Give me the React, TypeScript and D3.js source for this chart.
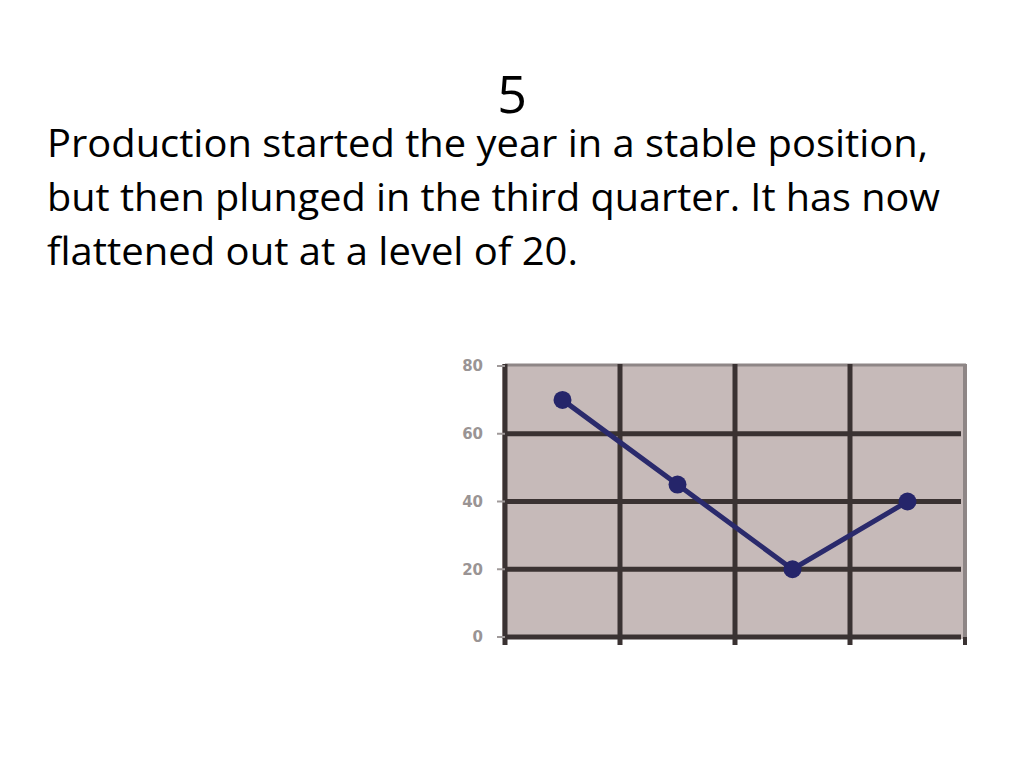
import React from "react";
import * as d3 from "d3";

const title = "5";
const bodyLines = [
  "Production started the year in a stable position,",
  "but then plunged in the third quarter. It has now",
  "flattened out at a level of 20.",
];
const bodyWidths = [881, 893, 531];

const quarters = ["Q1", "Q2", "Q3", "Q4"];
const production = [70, 45, 20, 40];
const yTicks = [0, 20, 40, 60, 80];

export default function App() {
  const x = d3.scaleBand<string>().domain(quarters).range([505, 965]).padding(0);
  const y = d3.scaleLinear().domain([0, 80]).range([637, 366]);
  const cx = (i: number) => (x(quarters[i]) as number) + x.bandwidth() / 2;
  const line = d3
    .line<number>()
    .x((_, i) => cx(i))
    .y((d) => y(d));

  const [x0, x1] = x.range();
  const gridColor = "#3a3232";
  const bg = "#c6bab9";

  const vLines = quarters.map((q) => x(q) as number);

  return (
    <svg
      width={1024}
      height={768}
      style={{ position: "absolute", left: 0, top: 0, background: "#fff" }}
    >
      <text
        x={512}
        y={113}
        textAnchor="middle"
        fontFamily="'Open Sans', sans-serif"
        fontSize={52}
        fill="#000"
      >
        {title}
      </text>
      {bodyLines.map((t, i) => (
        <text
          key={i}
          x={47}
          y={157 + i * 54}
          fontFamily="'Open Sans', sans-serif"
          fontSize={38}
          fill="#000"
          textLength={bodyWidths[i]}
          lengthAdjust="spacingAndGlyphs"
        >
          {t}
        </text>
      ))}

      {/* plot area */}
      <rect x={x0 - 3} y={y(80) - 2} width={x1 - x0 + 5} height={y(0) - y(80) + 4} fill={bg} />
      <line x1={x0} x2={x1 + 1} y1={y(80) - 1} y2={y(80) - 1} stroke="#8e8686" strokeWidth={3} />
      <line x1={x1} x2={x1} y1={y(80) - 2} y2={y(0) + 2} stroke="#8e8686" strokeWidth={4} />

      {yTicks
        .filter((t) => t < 80)
        .map((t) => (
          <line key={t} x1={x0} x2={x1 - 4} y1={y(t)} y2={y(t)} stroke={gridColor} strokeWidth={5} />
        ))}
      {vLines.map((vx, i) => (
        <line key={i} x1={vx} x2={vx} y1={y(80) - 2} y2={y(0) + 8} stroke={gridColor} strokeWidth={5} />
      ))}
      <line x1={x1} x2={x1} y1={y(0)} y2={y(0) + 8} stroke={gridColor} strokeWidth={4} />

      {yTicks.map((t) => (
        <g key={t}>
          <line x1={x0 - 8} x2={x0} y1={y(t)} y2={y(t)} stroke="#a09a9a" strokeWidth={2} />
          <text
            x={483}
            y={y(t)}
            dy="0.36em"
            textAnchor="end"
            fontFamily="'DejaVu Sans', sans-serif"
            fontWeight="bold"
            fontSize={15}
            fill="#9a9494"
          >
            {t}
          </text>
        </g>
      ))}

      <path d={line(production) as string} fill="none" stroke="#2a2a6c" strokeWidth={5} />
      {production.map((v, i) => (
        <circle key={i} cx={cx(i)} cy={y(v)} r={9} fill="#25256a" />
      ))}
    </svg>
  );
}
